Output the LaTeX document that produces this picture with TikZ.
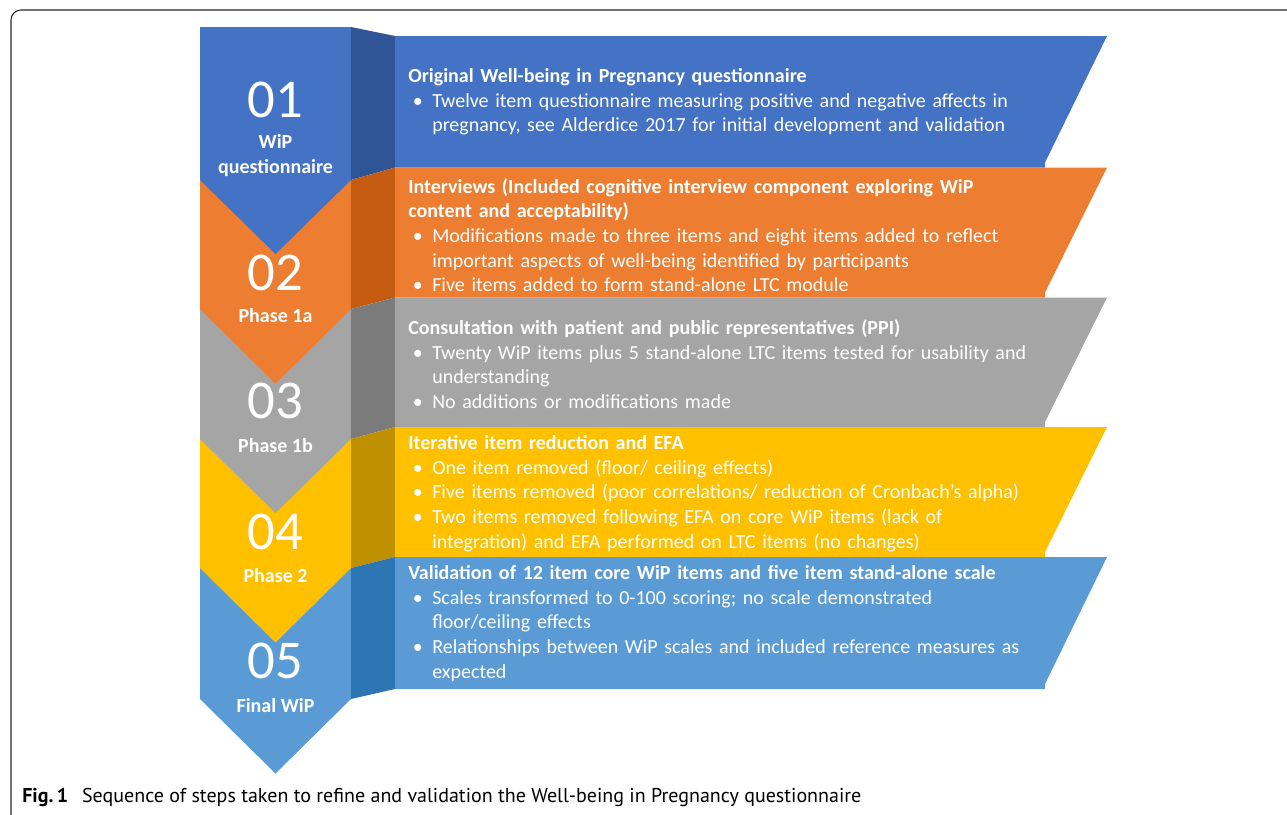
\documentclass[tikz,border=0pt]{standalone}
\usepackage{fontspec}
\setmainfont{Carlito}
\newfontfamily\capfont{PT Sans}
\usepackage{tikz}
\definecolor{wipblue}{HTML}{4472C4}
\definecolor{wipblued}{HTML}{2F5597}
\definecolor{wiporange}{HTML}{ED7D31}
\definecolor{wiporanged}{HTML}{C55A11}
\definecolor{wipgrey}{HTML}{A5A5A5}
\definecolor{wipgreyd}{HTML}{7B7B7B}
\definecolor{wipgold}{HTML}{FFC000}
\definecolor{wipgoldd}{HTML}{BF9000}
\definecolor{wipsky}{HTML}{5B9BD5}
\definecolor{wipskyd}{HTML}{2E75B6}
\tikzstyle{stepnum}=[text=white,inner sep=0pt,font=\fontsize{41}{41}\selectfont]
\tikzstyle{steplabel}=[text=white,inner sep=0pt,align=center,font=\fontsize{15}{18.75}\selectfont\bfseries]
\tikzstyle{stepbox}=[text=white,inner sep=0pt,anchor=west,text width=520pt,align=left,font=\fontsize{15}{18.5}\selectfont]
\newcommand{\bpt}[1]{\par\noindent\hbox to 18pt{\hskip3.5pt\textbullet\hfil}%
  \parbox[t]{490pt}{\raggedright #1\par\xdef\bptdepth{\the\prevdepth}}\par\prevdepth=\bptdepth\relax}

\begin{document}
\begin{tikzpicture}[x=0.75pt,y=-0.75pt]
\useasboundingbox (0,0) rectangle (1287,814);
\clip (0,0) rectangle (1287,814);
\draw[black!85,line width=0.8pt,rounded corners=7.5pt] (11,10) rectangle (1320,840);

% chevrons, last one first
\fill[wipsky] (200,27) -- (351,27) -- (351,699) -- (275.5,773.5) -- (200,699) -- cycle;
\fill[wipgold] (200,27) -- (351,27) -- (351,568) -- (275.5,642.5) -- (200,568) -- cycle;
\fill[wipgrey] (200,27) -- (351,27) -- (351,439) -- (275.5,513) -- (200,439) -- cycle;
\fill[wiporange] (200,27) -- (351,27) -- (351,309) -- (275.5,383.5) -- (200,309) -- cycle;
\fill[wipblue] (200,27) -- (351,27) -- (351,180) -- (275.5,254) -- (200,180) -- cycle;

% side bands
\fill[wipblued] (351,27) -- (395,36) -- (395,167.5) -- (351,180) -- cycle;
\fill[wiporanged] (351,180) -- (395,167.5) -- (395,297.5) -- (351,309) -- cycle;
\fill[wipgreyd] (351,309) -- (395,297.5) -- (395,427) -- (351,439) -- cycle;
\fill[wipgoldd] (351,439) -- (395,427) -- (395,557) -- (351,568) -- cycle;
\fill[wipskyd] (351,568) -- (395,557) -- (395,689) -- (351,699) -- cycle;

% panels
\fill[wipblue] (395,36) -- (1107,36) -- (1045,162.5) -- (1045,167.5) -- (395,167.5) -- cycle;
\fill[wiporange] (395,167.5) -- (1107,167.5) -- (1045,292.5) -- (1045,297.5) -- (395,297.5) -- cycle;
\fill[wipgrey] (395,297.5) -- (1107,297.5) -- (1045,422) -- (1045,427) -- (395,427) -- cycle;
\fill[wipgold] (395,427) -- (1107,427) -- (1045,552) -- (1045,557) -- (395,557) -- cycle;
\fill[wipsky] (395,557) -- (1107,557) -- (1045,684) -- (1045,689) -- (395,689) -- cycle;

% step numbers and names
\node[stepnum] (n1) at (275.5,99.5) {01};
\node[steplabel] (l1) at (275.5,156) {WiP\\questionnaire};
\node[stepnum] (n2) at (275.5,272.5) {02};
\node[steplabel] (l2) at (275.5,316) {Phase 1a};
\node[stepnum] (n3) at (275.5,401) {03};
\node[steplabel] (l3) at (275.5,446) {Phase 1b};
\node[stepnum] (n4) at (275.5,531.5) {04};
\node[steplabel] (l4) at (275.5,576) {Phase 2};
\node[stepnum] (n5) at (275.5,660.5) {05};
\node[steplabel] (l5) at (275.5,705.5) {Final WiP};

% panel texts
\node[stepbox] (t1) at (408,102) {\textbf{Original Well-being in Pregnancy questionnaire}
\bpt{Twelve item questionnaire measuring positive and negative affects in\\ pregnancy, see Alderdice 2017 for initial development and validation}};
\node[stepbox] (t2) at (408,235) {\textbf{Interviews (Included cognitive interview component exploring WiP\newline content and acceptability)}
\bpt{Modifications made to three items and eight items added to reflect\\ important aspects of well-being identified by participants}
\bpt{Five items added to form stand-alone LTC module}};
\node[stepbox] (t3) at (408,364) {\textbf{Consultation with patient and public representatives (PPI)}
\bpt{Twenty WiP items plus 5 stand-alone LTC items tested for usability and\\ understanding}
\bpt{No additions or modifications made}};
\node[stepbox] (t4) at (408,493.5) {\textbf{Iterative item reduction and EFA}
\bpt{One item removed (floor/ ceiling effects)}
\bpt{Five items removed (poor correlations/ reduction of Cronbach’s alpha)}
\bpt{Two items removed following EFA on core WiP items (lack of\\ integration) and EFA performed on LTC items (no changes)}};
\node[stepbox] (t5) at (408,623.5) {\textbf{Validation of 12 item core WiP items and five item stand-alone scale}
\bpt{Scales transformed to 0-100 scoring; no scale demonstrated\\ floor/ceiling effects}
\bpt{Relationships between WiP scales and included reference measures as\\ expected}};

% caption
\node[anchor=base west,inner sep=0pt,font=\capfont\fontsize{15}{15}\selectfont] (cap) at (22,802)
  {\textbf{Fig.\,1}\hspace{0.7em}Sequence of steps taken to refine and validation the Well-being in Pregnancy questionnaire};
\end{tikzpicture}
\end{document}
